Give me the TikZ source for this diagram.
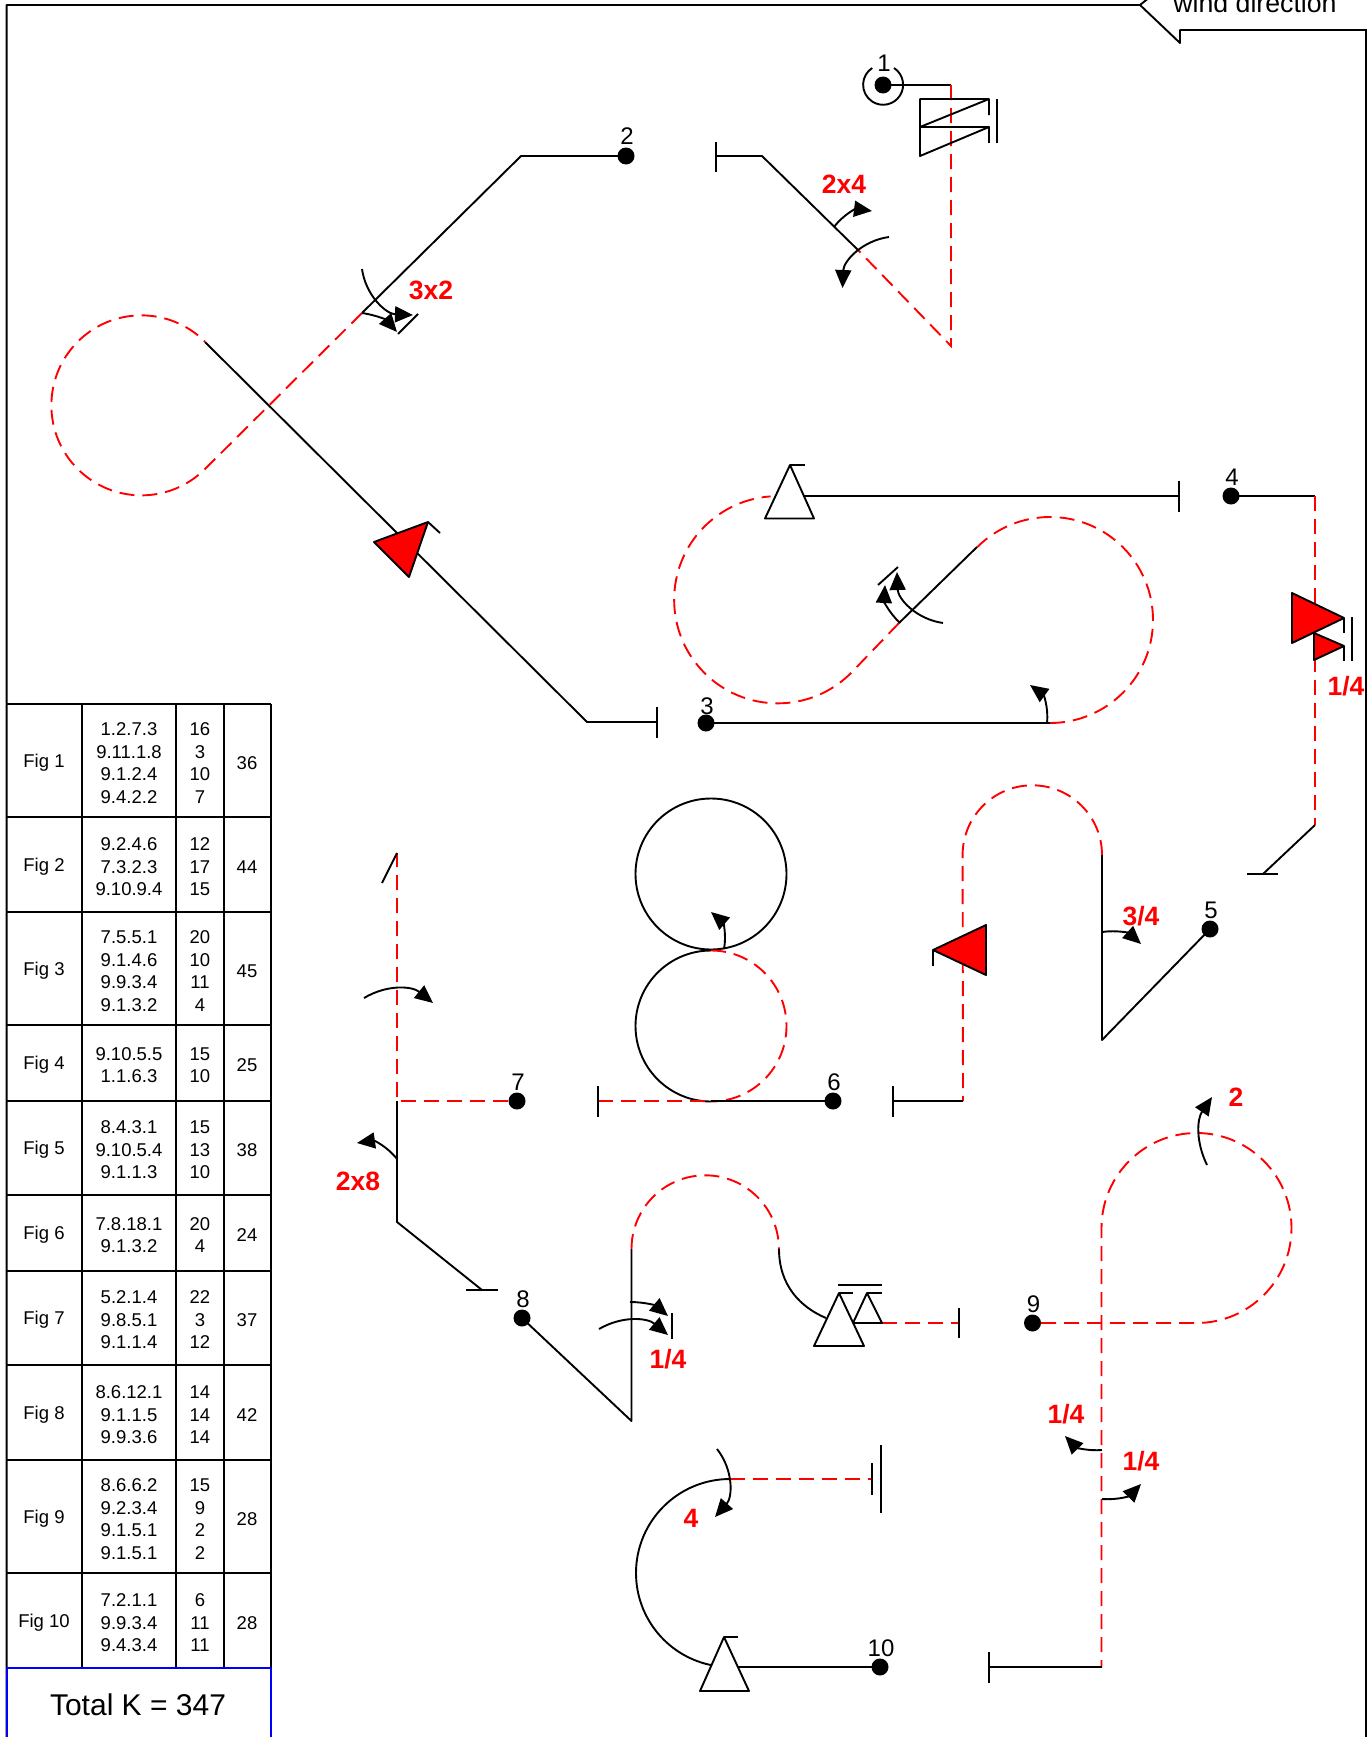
\documentclass[tikz,border=0pt]{standalone}
\usepackage{fontspec}
\setmainfont{Liberation Sans}
\usetikzlibrary{arrows.meta,positioning}
\begin{document}
\begin{tikzpicture}[
  x=1pt, y=1pt,
  line/.style={line width=1.9pt, line join=round},
  leg/.style={line width=1.9pt, red, dash pattern=on 15pt off 8pt},
  turn/.style={line width=1.9pt, -{Triangle[length=18pt,width=16pt]}},
  pt/.style={circle, fill=black, inner sep=0pt, minimum size=17pt},
  num/.style={font=\fontsize{24}{24}\selectfont, inner sep=0pt},
  tag/.style={font=\fontsize{26.5}{26.5}\selectfont\bfseries, text=red, inner sep=0pt},
  cell/.style={font=\fontsize{18.5}{22.5}\selectfont, align=center, inner sep=0pt},
  open/.style={line width=1.9pt, line join=round, fill=white},
  shut/.style={line width=1.9pt, line join=round, fill=red}
]
\useasboundingbox (0,0) rectangle (1367,-1737);

% frame
\draw[line] (6.6,-1737) -- (6.6,-5) -- (1140,-5) -- (1180,-43) -- (1180,-30) -- (1367,-30);
\draw[line] (1140,-5) -- (1150,3);
\draw[line] (1366,-30) -- (1366,-1737);
\node[inner sep=0pt, anchor=base, font=\fontsize{26.7}{26.7}\selectfont] (wind) at (1255,-13) {wind direction};

% table
\foreach \y in {704,817,912,1025,1101,1195,1271,1365,1460,1573} {
  \draw[line] (6.6,-\y) -- (271,-\y);
}
\foreach \x in {82,176,224,271} {
  \draw[line] (\x,-704) -- (\x,-1668);
}
\foreach \i/\y/\seq/\val/\tot in {
  1/763/{1.2.7.3\\9.11.1.8\\9.1.2.4\\9.4.2.2}/{16\\3\\10\\7}/36,
  2/867/{9.2.4.6\\7.3.2.3\\9.10.9.4}/{12\\17\\15}/44,
  3/971/{7.5.5.1\\9.1.4.6\\9.9.3.4\\9.1.3.2}/{20\\10\\11\\4}/45,
  4/1065/{9.10.5.5\\1.1.6.3}/{15\\10}/25,
  5/1150/{8.4.3.1\\9.10.5.4\\9.1.1.3}/{15\\13\\10}/38,
  6/1235/{7.8.18.1\\9.1.3.2}/{20\\4}/24,
  7/1320/{5.2.1.4\\9.8.5.1\\9.1.1.4}/{22\\3\\12}/37,
  8/1415/{8.6.12.1\\9.1.1.5\\9.9.3.6}/{14\\14\\14}/42,
  9/1519/{8.6.6.2\\9.2.3.4\\9.1.5.1\\9.1.5.1}/{15\\9\\2\\2}/28,
  10/1623/{7.2.1.1\\9.9.3.4\\9.4.3.4}/{6\\11\\11}/28} {
  \node[cell] (fig\i) at (44,-\y) {Fig \i};
  \node[cell] (seq\i) at (129,-\y) {\seq};
  \node[cell] (val\i) at (200,-\y) {\val};
  \node[cell] (tot\i) at (247,-\y) {\tot};
}
\draw[line, blue] (6.6,-1737) -- (6.6,-1668) -- (271,-1668) -- (271,-1737);
\node[inner sep=0pt, font=\fontsize{30}{30}\selectfont] (total) at (138,-1705) {Total K = 347};

% points
\foreach \i/\x/\y/\up in {1/883/85/22,2/626/156/20,3/706/723/17,4/1231/496/19,5/1210/929/19,6/833/1101/19,7/517/1101/19,8/522/1318/19,9/1032.5/1323/19,10/880/1667/19} {
  \node[pt] (p\i) at (\x,-\y) {};
  \node[num] (n\i) at ({\x+1},{-\y+\up}) {\i};
}

% fig 1
\draw[line] (894,-68) arc (57:-237:20);
\draw[line] (p1.center) -- (951,-85);
\draw[leg] (951,-85) -- (951,-346) -- (858,-250);
\draw[line] (858,-250) -- (762,-156) -- (716,-156);
\draw[line] (716,-142) -- (716,-172);
\draw[line] (989,-115) -- (989,-99) -- (920,-99) -- (920,-156) -- (989,-127) -- (920,-127) -- (989,-99);
\draw[line] (989,-127) -- (989,-143);
\draw[line] (997,-99) -- (997,-143);
\draw[turn] (834,-227) to[bend left=30] (872,-211);
\draw[turn] (889,-237) to[bend right=40] (842.5,-288);
\node[tag] (t2x4) at (844,-184) {2x4};

% fig 2
\draw[line] (p2.center) -- (521,-156) -- (362,-313);
\draw[leg] (362,-313) -- (205,-469) arc (-45:-315:90);
\draw[line] (205,-342) -- (587,-722) -- (657,-722);
\draw[line] (657,-707) -- (657,-738);
\draw[shut] (374,-542) -- (428,-522) -- (409,-577) -- cycle;
\draw[line] (428,-522) -- (440,-533);
\draw[turn] (362,-269) to[bend right=40] (413,-315);
\draw[turn] (362,-313) to[bend left=20] (397,-332);
\draw[line] (418,-314) -- (398,-334);
\node[tag] (t3x2) at (431,-290) {3x2};

% fig 3
\draw[line] (p3.center) -- (1050,-723);
\draw[leg] (1050,-723) arc (-90:135:103);
\draw[line] (977,-547) -- (899,-623);
\draw[leg] (899,-623) -- (851,-673) arc (-45:-266:103.6);
\draw[line] (795,-496) -- (1179,-496);
\draw[line] (1179,-481) -- (1179,-512);
\draw[open] (790,-465) -- (765,-518.5) -- (814,-518.5) -- cycle;
\draw[line] (790,-465) -- (805,-465);
\draw[turn] (900,-623) to[bend left=25] (885,-585);
\draw[turn] (943,-623) to[bend left=40] (897,-572);
\draw[line] (878,-585) -- (898,-567);
\draw[turn] (1047,-723) to[bend right=30] (1030,-685);

% fig 4
\draw[line] (p4.center) -- (1315,-496);
\draw[leg] (1315,-496) -- (1315,-825);
\draw[line] (1315,-825) -- (1263,-874);
\draw[line] (1247,-874) -- (1278,-874);
\draw[shut] (1292,-593) -- (1292,-643) -- (1344,-618) -- cycle;
\draw[shut] (1314,-633) -- (1314,-660) -- (1344,-646) -- cycle;
\draw[line] (1344,-618) -- (1344,-633);
\draw[line] (1344,-646) -- (1344,-661);
\draw[line] (1352,-617) -- (1352,-661);
\node[tag] (t14a) at (1346,-686) {1/4};

% fig 5
\draw[line] (p5.center) -- (1102,-1040) -- (1102,-855);
\draw[leg] (1102,-855) arc (0:180:69.7) -- (963,-1101);
\draw[line] (963,-1101) -- (893,-1101);
\draw[line] (893,-1086) -- (893,-1117);
\draw[shut] (986,-925) -- (933,-950) -- (986,-975) -- cycle;
\draw[line] (933,-950) -- (933,-966);
\draw[turn] (1102,-932) to[bend left=25] (1141,-944);
\node[tag] (t34) at (1141,-916) {3/4};

% fig 6
\draw[line] (711,-874) circle (75.5);
\draw[line] (711,-950.5) arc (90:270:75.5);
\draw[leg] (711,-950.5) arc (90:-90:75.5);
\draw[line] (p6.center) -- (711,-1101);
\draw[leg] (598,-1101) -- (711,-1101);
\draw[line] (598,-1086) -- (598,-1117);
\draw[turn] (724,-949) to[bend right=30] (711,-912);

% fig 7
\draw[leg] (p7.west) -- (397,-1101) -- (397,-853);
\draw[line] (397,-853) -- (382,-883);
\draw[line] (397,-1101) -- (397,-1222) -- (482,-1290);
\draw[line] (466,-1290) -- (498,-1290);
\draw[turn] (364,-998) to[bend left=35] (433,-1003);
\draw[turn] (397,-1159) to[bend right=30] (357,-1143);
\node[tag] (t2x8) at (358,-1181) {2x8};

% fig 8
\draw[line] (p8.center) -- (631.5,-1421) -- (631.5,-1249);
\draw[leg] (631.5,-1249) arc (180:0:73.7);
\draw[line] (779,-1249) .. controls (779,-1285) and (800,-1307) .. (826,-1318);
\draw[line] (845,-1323) -- (882,-1323);
\draw[leg] (882,-1323) -- (959,-1323);
\draw[line] (959,-1308) -- (959,-1338);
\draw[open] (867,-1293) -- (853,-1323) -- (882,-1323) -- cycle;
\draw[open] (839,-1293) -- (814,-1346) -- (864,-1346) -- cycle;
\draw[line] (839,-1293) -- (853,-1293);
\draw[line] (867,-1293) -- (882,-1293);
\draw[line] (838,-1285) -- (882,-1285);
\draw[turn] (630,-1302) to[bend left=20] (668,-1316);
\draw[turn] (599,-1329) to[bend left=35] (668,-1335);
\draw[line] (672,-1313) -- (672,-1339);
\node[tag] (t14b) at (668,-1359) {1/4};

% fig 9
\draw[leg] (p9.east) -- (1196.5,-1323) arc (-90:180:95) -- (1101.5,-1667);
\draw[line] (1102,-1667) -- (989,-1667);
\draw[line] (989,-1652) -- (989,-1683);
\draw[turn] (1207,-1165) to[bend left=30] (1212,-1097);
\draw[turn] (1102,-1450) to[bend left=25] (1065,-1436);
\draw[turn] (1102,-1499) to[bend right=25] (1141,-1484);
\node[tag] (t2) at (1236,-1097) {2};
\node[tag] (t14c) at (1066,-1414) {1/4};
\node[tag] (t14d) at (1141,-1461) {1/4};

% fig 10
\draw[line] (p10.center) -- (735,-1667);
\draw[leg] (730,-1479) -- (872,-1479);
\draw[line] (872,-1463) -- (872,-1495);
\draw[line] (881,-1445) -- (881,-1513);
\draw[line] (730,-1479) arc (90:260:94);
\draw[open] (724,-1637) -- (700,-1691) -- (749,-1691) -- cycle;
\draw[line] (724,-1637) -- (738,-1637);
\draw[turn] (717,-1449) to[bend left=40] (715,-1517);
\node[tag] (t4) at (691,-1518) {4};
\end{tikzpicture}
\end{document}
